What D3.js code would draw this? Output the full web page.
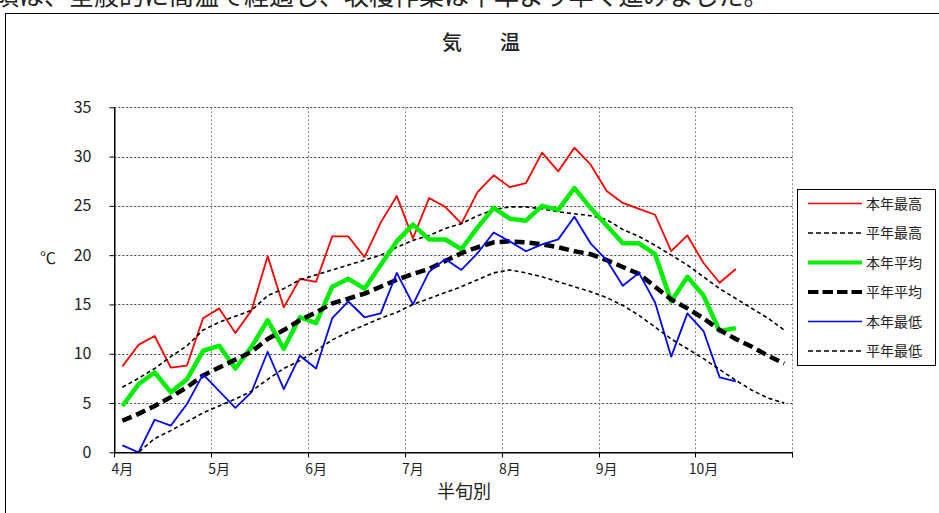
<!DOCTYPE html>
<html>
<head>
<meta charset="utf-8">
<script src="https://cdn.jsdelivr.net/npm/d3@7"></script>
<style>
  body { margin: 0; background: #fff; }
  svg { display: block; font-family: "Noto Sans CJK JP", "Noto Sans", sans-serif; }
</style>
</head>
<body>
<div id="chart"></div>
<script>
// 半旬 (5-day periods), April to October
const months = ["4月", "5月", "6月", "7月", "8月", "9月", "10月"];
const pentads = months.flatMap(m => [1, 2, 3, 4, 5, 6].map(k => m + k + "半旬"));
const yTicks = [0, 5, 10, 15, 20, 25, 30, 35];

// this year (to 10月 3半旬)
const maxThisYear = [8.7, 10.9, 11.8, 8.6, 8.8, 13.6, 14.6, 12.1, 14.4, 19.9,
  14.7, 17.6, 17.3, 21.9, 21.9, 19.8, 23.3, 26.0, 21.7, 25.8,
  24.9, 23.2, 26.4, 28.1, 26.9, 27.3, 30.4, 28.5, 30.9, 29.2,
  26.5, 25.3, 24.7, 24.1, 20.4, 22.0, 19.2, 17.2, 18.6];
const meanThisYear = [4.7, 6.9, 8.1, 6.1, 7.4, 10.3, 10.8, 8.5, 10.7, 13.4,
  10.5, 13.7, 13.1, 16.8, 17.6, 16.6, 19.0, 21.4, 23.1, 21.6,
  21.6, 20.6, 22.8, 24.8, 23.7, 23.5, 25.0, 24.6, 26.8, 24.8,
  23.0, 21.2, 21.2, 20.1, 15.3, 17.8, 15.9, 12.3, 12.6];
const minThisYear = [0.7, 0.0, 3.3, 2.7, 4.9, 7.9, 6.2, 4.5, 6.1, 10.2,
  6.4, 9.8, 8.5, 13.6, 15.3, 13.7, 14.1, 18.2, 15.0, 18.3,
  19.6, 18.5, 20.2, 22.3, 21.4, 20.4, 21.1, 21.6, 23.9, 21.2,
  19.5, 16.9, 18.2, 15.2, 9.7, 14.1, 12.3, 7.6, 7.2];

// normals (whole period)
const maxNormal = [6.6, 7.5, 8.5, 9.7, 10.8, 12.4, 13.2, 13.8, 14.4, 15.9,
  16.6, 17.5, 18.0, 18.5, 19.0, 19.5, 20.0, 20.8, 21.5, 22.0,
  22.7, 23.2, 24.0, 24.6, 24.9, 24.9, 24.7, 24.4, 24.2, 24.0,
  23.6, 22.6, 21.9, 21.0, 20.0, 19.0, 17.8, 16.6, 15.6, 14.6,
  13.6, 12.4];
const meanNormal = [3.2, 3.9, 4.7, 5.6, 6.6, 7.8, 8.6, 9.4, 10.2, 11.5,
  12.4, 13.4, 14.2, 15.1, 15.6, 16.1, 16.8, 17.5, 18.1, 18.6,
  19.4, 20.2, 20.8, 21.3, 21.4, 21.3, 21.1, 20.8, 20.4, 20.1,
  19.5, 18.8, 18.1, 16.8, 15.5, 14.6, 13.6, 12.4, 11.5, 10.7,
  9.8, 9.0];
const minNormal = [-1.2, 0.0, 1.4, 2.2, 3.1, 4.0, 4.7, 5.4, 6.2, 7.4,
  8.5, 9.3, 10.3, 11.4, 12.2, 12.9, 13.6, 14.2, 15.0, 15.6,
  16.2, 16.8, 17.5, 18.2, 18.5, 18.2, 17.8, 17.3, 16.8, 16.3,
  15.7, 14.9, 13.9, 12.7, 11.5, 10.5, 9.5, 8.4, 7.3, 6.3,
  5.5, 5.0];

const series = [
  { name: "本年最高", values: maxThisYear, color: "#ff0000", width: 1.8, dash: null },
  { name: "平年最高", values: maxNormal, color: "#000", width: 1.6, dash: "4,3" },
  { name: "本年平均", values: meanThisYear, color: "#00ee00", width: 4.5, dash: null },
  { name: "平年平均", values: meanNormal, color: "#000", width: 4.5, dash: "10,5" },
  { name: "本年最低", values: minThisYear, color: "#0000ff", width: 1.8, dash: null },
  { name: "平年最低", values: minNormal, color: "#000", width: 1.6, dash: "4,3" }
];

const width = 939, height = 513;
const plot = { left: 114.3, right: 792.3, top: 107.3, bottom: 452.3 };

const svg = d3.select("#chart").append("svg")
  .attr("width", width)
  .attr("height", height);

// cut-off sentence from the surrounding document
svg.append("text")
  .attr("x", -6).attr("y", 5)
  .attr("font-size", 25)
  .attr("fill", "#222")
  .text("頃は、全般的に高温で経過し、収穫作業は平年より早く進みました。");

// outer chart frame
svg.append("rect")
  .attr("x", 5.5).attr("y", 13.5)
  .attr("width", 960).attr("height", 520)
  .attr("fill", "#fff")
  .attr("stroke", "#000");

const x = d3.scaleBand()
  .domain(pentads)
  .range([plot.left, plot.right]);

const y = d3.scaleLinear()
  .domain([0, 35])
  .range([plot.bottom, plot.top]);

const cx = d => x(d) + x.bandwidth() / 2;
const monthStarts = months.map((m, i) => pentads[i * 6]);
const boundaries = monthStarts.map(p => x(p)).concat([plot.right]);

// grid
svg.append("g")
  .selectAll("line")
  .data(yTicks.filter(t => t > 0))
  .enter()
  .append("line")
  .attr("x1", plot.left).attr("x2", plot.right)
  .attr("y1", d => Math.round(y(d)) + 0.5).attr("y2", d => Math.round(y(d)) + 0.5)
  .attr("stroke", "#444")
  .attr("stroke-dasharray", "2,2");

svg.append("g")
  .selectAll("line")
  .data(boundaries.slice(1))
  .enter()
  .append("line")
  .attr("x1", d => Math.round(d) + 0.5).attr("x2", d => Math.round(d) + 0.5)
  .attr("y1", plot.top).attr("y2", plot.bottom)
  .attr("stroke", "#888")
  .attr("stroke-dasharray", "2,2");

// y axis
const yAxis = svg.append("g")
  .attr("transform", `translate(${Math.round(plot.left) + 0.5},0)`)
  .call(d3.axisLeft(y).tickValues(yTicks).tickSize(5).tickPadding(18).tickSizeOuter(0));
yAxis.selectAll("text")
  .attr("font-size", 16)
  .attr("font-family", "'Noto Sans CJK JP', sans-serif")
  .attr("fill", "#222");
yAxis.select(".domain").attr("stroke", "#000");

// x axis: labels at the first 半旬 of each month, ticks at month boundaries
const xAxis = svg.append("g")
  .attr("transform", `translate(0,${Math.round(plot.bottom) + 0.5})`)
  .call(d3.axisBottom(x).tickValues(monthStarts).tickSize(0).tickPadding(12)
    .tickFormat(p => months[pentads.indexOf(p) / 6]));
xAxis.select(".domain").attr("stroke", "#000");
xAxis.selectAll("text")
  .attr("font-size", 14)
  .attr("font-family", "'Noto Sans CJK JP', sans-serif")
  .attr("fill", "#222");
xAxis.selectAll(".month-tick")
  .data(boundaries)
  .enter()
  .append("line")
  .attr("x1", d => Math.round(d) + 0.5).attr("x2", d => Math.round(d) + 0.5)
  .attr("y1", 0).attr("y2", 5)
  .attr("stroke", "#000");

// lines
svg.append("clipPath").attr("id", "clip")
  .append("rect")
  .attr("x", plot.left).attr("y", plot.top - 5)
  .attr("width", plot.right - plot.left + 5)
  .attr("height", plot.bottom - plot.top + 5);

const line = d3.line()
  .x((d, i) => cx(pentads[i]))
  .y(d => y(d));

svg.append("g")
  .attr("clip-path", "url(#clip)")
  .selectAll("path")
  .data(series)
  .enter()
  .append("path")
  .attr("d", s => line(s.values))
  .attr("fill", "none")
  .attr("stroke", s => s.color)
  .attr("stroke-width", s => s.width)
  .attr("stroke-dasharray", s => s.dash)
  .attr("stroke-linejoin", "round");

// redraw axis lines on top
svg.append("line")
  .attr("x1", Math.round(plot.left) + 0.5).attr("x2", Math.round(plot.left) + 0.5)
  .attr("y1", plot.top).attr("y2", plot.bottom + 0.5)
  .attr("stroke", "#000");
svg.append("line")
  .attr("x1", plot.left).attr("x2", plot.right + 0.5)
  .attr("y1", Math.round(plot.bottom) + 0.5).attr("y2", Math.round(plot.bottom) + 0.5)
  .attr("stroke", "#000");

// titles
svg.append("text")
  .attr("x", 442).attr("y", 50)
  .attr("font-size", 20)
  .attr("font-weight", 500)
  .attr("letter-spacing", 9)
  .attr("fill", "#222")
  .text("気　温");

svg.append("text")
  .attr("x", 48).attr("y", 264)
  .attr("text-anchor", "middle")
  .attr("font-size", 16)
  .attr("fill", "#222")
  .text("℃");

svg.append("text")
  .attr("x", 464).attr("y", 498)
  .attr("text-anchor", "middle")
  .attr("font-size", 18)
  .attr("fill", "#222")
  .text("半旬別");

// legend
const legend = svg.append("g");
legend.append("rect")
  .attr("x", 797.5).attr("y", 189.5)
  .attr("width", 138).attr("height", 176)
  .attr("fill", "#fff")
  .attr("stroke", "#000");

const item = legend.selectAll(".item")
  .data(series)
  .enter()
  .append("g")
  .attr("transform", (d, i) => `translate(0,${203.5 + i * 29.5})`);

item.append("line")
  .attr("x1", 808).attr("x2", 862)
  .attr("stroke", d => d.color)
  .attr("stroke-width", d => d.width === 4.5 ? 4 : 1.6)
  .attr("stroke-dasharray", d => d.dash === "10,5" ? "10.5,4" : d.dash ? "5,3" : null);

item.append("text")
  .attr("x", 866).attr("y", 5)
  .attr("font-size", 14)
  .attr("fill", "#222")
  .text(d => d.name);
</script>
</body>
</html>
